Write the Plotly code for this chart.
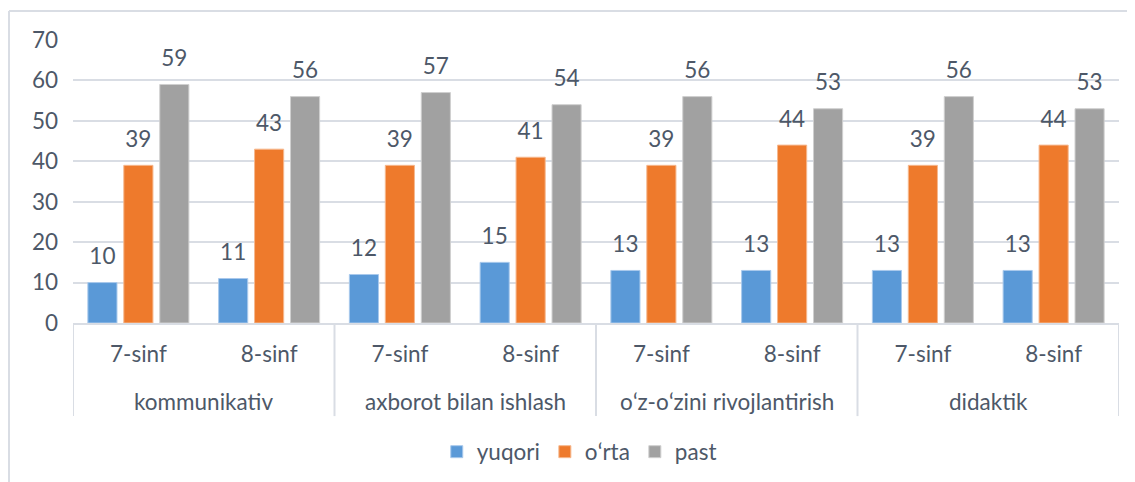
import plotly.graph_objects as go

groups = ["kommunikativ", "axborot bilan ishlash", "o\u02bbz-o\u02bbzini rivojlantirish", "didaktik"]
classes = ["7-sinf", "8-sinf"]
series_names = ["yuqori", "o\u02bbrta", "past"]
yuqori = [10, 11, 12, 15, 13, 13, 13, 13]
orta = [39, 43, 39, 41, 39, 44, 39, 44]
past = [59, 56, 57, 54, 56, 53, 56, 53]
y_ticks = [0, 10, 20, 30, 40, 50, 60, 70]

colors = ["#5a99d7", "#ee7a2c", "#a1a1a1"]
edge = ["#a9c9ec", "#f6b88e", "#cfcfcf"]
text_color = "#4d5868"
grid_color = "#d9dde4"
FONT = "Lato"
FS = 22.5

x_keys = [f"{g} | {c}" for g in groups for c in classes]
x_inner = [c for _ in groups for c in classes]
n_cls = len(classes)

fig = go.Figure()
for i, (name, vals) in enumerate(zip(series_names, [yuqori, orta, past])):
    fig.add_trace(go.Bar(
        x=x_keys, y=vals, name=name,
        marker=dict(color=colors[i], line=dict(color=edge[i], width=1)),
        offsetgroup=str(i), alignmentgroup="bars",
        hoverinfo="skip",
    ))
for i, (name, vals) in enumerate(zip(series_names, [yuqori, orta, past])):
    fig.add_trace(go.Scatter(
        x=x_keys, y=vals, mode="markers+text", text=[str(v) for v in vals],
        textposition="top center",
        textfont=dict(family=FONT, size=FS, color=text_color),
        marker=dict(size=19, color="rgba(0,0,0,0)"),
        offsetgroup=str(i), alignmentgroup="pts",
        showlegend=False, hoverinfo="skip",
    ))

# group labels and dividers of the two-level category axis
annotations = [
    dict(x=gi * n_cls + (n_cls - 1) / 2, xref="x", y=-0.279, yref="paper",
         text=g, showarrow=False, xanchor="center", yanchor="middle",
         font=dict(family=FONT, size=FS, color=text_color))
    for gi, g in enumerate(groups)
]
shapes = [
    dict(type="line", xref="x", yref="paper", x0=gi * n_cls - 0.5, x1=gi * n_cls - 0.5,
         y0=0, y1=-0.329, line=dict(color=grid_color, width=2))
    for gi in range(len(groups) + 1)
]
shapes += [
    dict(type="line", xref="paper", yref="paper", x0=-0.0612, x1=-0.0612, y0=1.1025, y1=-0.6,
         line=dict(color=grid_color, width=2)),
    dict(type="line", xref="paper", yref="paper", x0=-0.0612, x1=1.1, y0=1.1025, y1=1.1025,
         line=dict(color=grid_color, width=2)),
]

fig.update_layout(
    width=1135, height=482,
    margin=dict(l=65, r=24, t=32, b=167),
    paper_bgcolor="white", plot_bgcolor="white",
    barmode="group", bargap=0.175, bargroupgap=0.19,
    scattermode="group", scattergap=0.175,
    font=dict(family=FONT, size=FS, color=text_color),
    showlegend=True,
    legend=dict(orientation="h", xanchor="center", x=0.484, yanchor="middle", y=-0.456,
                font=dict(family=FONT, size=FS, color=text_color), itemwidth=30,
                traceorder="normal"),
    annotations=annotations,
    shapes=shapes,
)
fig.update_yaxes(range=[0, 70], tickvals=y_ticks, showgrid=True, gridcolor=grid_color, gridwidth=2,
                 zeroline=False, showline=False, ticks="", tickfont=dict(size=FS, color=text_color),
                 ticklabelstandoff=14)
fig.update_xaxes(type="category", tickvals=x_keys, ticktext=x_inner, showline=True,
                 linecolor=grid_color, linewidth=2, ticks="", ticklabelstandoff=10,
                 tickfont=dict(size=FS, color=text_color), range=[-0.5, len(x_keys) - 0.5])

fig.write_html("out.html")
